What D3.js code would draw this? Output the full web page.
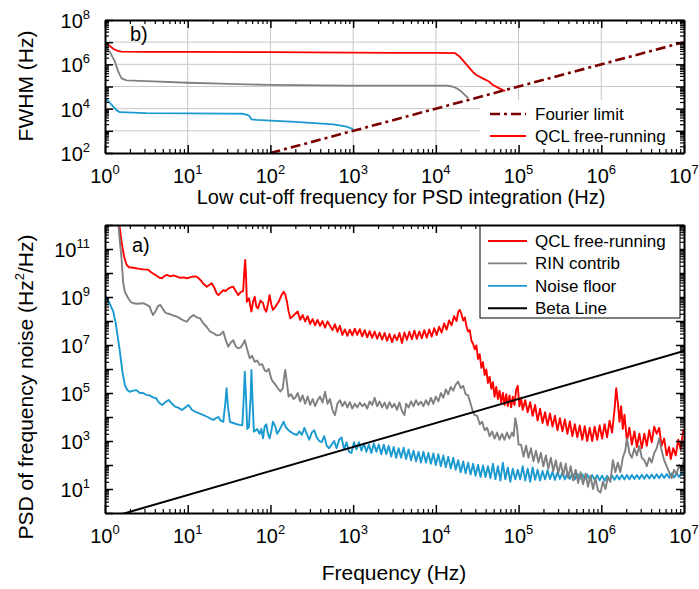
<!DOCTYPE html>
<html>
<head>
<meta charset="utf-8">
<script src="https://cdn.jsdelivr.net/npm/d3@7"></script>
<style>
  body { margin: 0; background: #fff; }
  text { font-family: "Liberation Sans", Arial, Helvetica, sans-serif; fill: #000; }
</style>
</head>
<body>
<svg id="chart" width="699" height="589"></svg>
<script>
// ---------------------------------------------------------------------------
// Data. Each point is [log10 frequency (Hz), log10 value].
// ---------------------------------------------------------------------------

// Panel b): FWHM vs low cut-off frequency for PSD integration
const fwhmQcl = [[0,7.0],[0.05,6.85],[0.10,6.70],[0.15,6.61],[0.20,6.57],[0.5,6.56],[1,6.56],[2,6.55],[3,6.53],[3.5,6.52],[4.0,6.52],[4.23,6.51],
  [4.29,6.34],[4.35,6.08],[4.41,5.82],[4.45,5.65],[4.49,5.52],[4.55,5.40],[4.61,5.29],[4.65,5.20],[4.69,5.07],[4.75,4.95],[4.81,4.84],[4.84,4.80]];
const fwhmRin = [[0,6.79],[0.06,6.55],[0.12,6.12],[0.16,5.67],[0.20,5.37],[0.26,5.28],[0.5,5.24],[1,5.17],[1.5,5.12],[2,5.07],[3,5.04],[4.13,5.04],
  [4.2,5.0],[4.25,4.92],[4.30,4.80],[4.35,4.62],[4.39,4.47]];
const fwhmFloor = [[0,4.47],[0.05,4.30],[0.10,4.09],[0.15,3.90],[0.18,3.84],[0.5,3.80],[1,3.79],[1.5,3.78],[1.67,3.77],[1.73,3.71],[1.75,3.65],
  [1.77,3.52],[1.83,3.49],[2.3,3.40],[2.76,3.29],[2.92,3.19],[3.0,3.08]];
const fourierLimit = [[2,2],[7,7]];

// Panel a): PSD of frequency noise
const psdQcl = [[0.17,12.1],[0.20,11.3],[0.23,10.7],[0.26,10.35],[0.29,10.24],[0.34,10.22],[0.40,10.18],[0.46,10.15],[0.52,10.14],[0.55,10.05],
  [0.58,9.98],[0.62,9.90],[0.66,9.80],[0.69,9.78],[0.72,9.88],[0.75,9.92],[0.79,9.86],[0.83,9.90],[0.87,9.85],[0.91,9.80],[0.95,9.82],[0.99,9.78],
  [1.03,9.82],[1.07,9.86],[1.11,9.85],[1.15,9.72],[1.19,9.55],[1.23,9.43],[1.26,9.50],[1.29,9.57],[1.32,9.40],[1.35,9.15],[1.37,9.08],[1.40,9.18],
  [1.43,9.28],[1.46,9.25],[1.49,9.35],[1.52,9.40],[1.55,9.43],[1.58,9.25],[1.61,9.08],[1.64,9.20],[1.67,9.25],[1.685,10.1],[1.695,10.54],[1.705,9.9],
  [1.715,8.80],[1.74,8.95],[1.77,8.39],[1.79,8.80],[1.81,9.01],[1.83,8.60],[1.85,8.53],[1.88,8.85],[1.91,8.75],[1.93,8.50],[1.95,8.39],[1.97,8.70],
  [1.99,9.08],[2.01,8.70],[2.03,8.46],[2.06,8.60],[2.10,8.80],[2.13,9.05],[2.16,9.22],[2.18,9.10],[2.20,8.80],[2.22,8.40],[2.24,8.11],[2.27,8.20],
  [2.30,8.30],[2.33,8.40],[2.36,8.05],[2.39,8.25],[2.42,7.98],[2.45,8.20],[2.48,7.88],[2.51,8.08],[2.54,7.82],[2.57,8.05],[2.60,7.80],[2.63,8.00],
  [2.66,7.72],[2.69,7.98],[2.72,7.80],[2.75,7.62],[2.78,7.86],[2.81,7.55],[2.84,7.80],[2.87,7.42],[2.90,7.65],[2.93,7.38],[2.96,7.64],[2.99,7.40],
  [3.02,7.68],[3.05,7.42],[3.08,7.66],[3.11,7.36],[3.14,7.62],[3.17,7.32],[3.20,7.58],[3.23,7.30],[3.26,7.56],[3.29,7.26],[3.32,7.52],[3.35,7.22],
  [3.38,7.50],[3.41,7.18],[3.44,7.46],[3.47,7.12],[3.50,7.42],[3.53,7.20],[3.56,7.50],[3.59,7.08],[3.62,7.52],[3.65,7.22],[3.68,7.55],[3.71,7.24],
  [3.74,7.60],[3.77,7.26],[3.80,7.56],[3.83,7.28],[3.86,7.62],[3.89,7.30],[3.92,7.65],[3.95,7.35],[3.98,7.70],[4.01,7.42],[4.04,7.76],[4.07,7.52],
  [4.10,7.90],[4.13,7.64],[4.16,8.02],[4.19,7.82],[4.22,8.20],[4.25,8.00],[4.27,8.38],[4.29,8.46],[4.31,8.28],[4.33,8.02],[4.35,8.15],[4.37,7.78],
  [4.39,7.56],[4.41,7.62],[4.43,7.18],[4.45,7.05],[4.47,6.82],[4.49,6.98],[4.51,6.42],[4.53,6.62],[4.55,6.05],[4.57,6.28],[4.59,5.75],[4.61,5.98],
  [4.63,5.42],[4.65,5.68],[4.67,5.18],[4.69,5.45],[4.71,4.85],[4.73,5.25],[4.75,4.75],[4.77,5.10],[4.79,4.60],[4.81,5.00],[4.83,4.50],[4.85,4.95],
  [4.87,4.45],[4.89,4.90],[4.91,4.40],[4.93,4.85],[4.95,4.50],[4.97,5.12],[4.99,5.30],[5.01,4.45],[5.03,4.80],[5.05,4.30],[5.08,4.70],[5.11,4.20],
  [5.14,4.62],[5.17,4.05],[5.20,4.50],[5.23,3.85],[5.26,4.35],[5.29,3.75],[5.32,4.20],[5.35,3.65],[5.38,4.15],[5.41,3.60],[5.44,4.05],[5.47,3.45],
  [5.50,3.95],[5.53,3.40],[5.56,3.90],[5.59,3.30],[5.62,3.82],[5.65,3.20],[5.68,3.70],[5.71,3.15],[5.74,3.65],[5.77,3.05],[5.80,3.62],[5.83,3.00],
  [5.86,3.55],[5.89,3.00],[5.92,3.60],[5.95,3.05],[5.98,3.65],[6.01,3.10],[6.04,3.70],[6.07,3.15],[6.10,3.85],[6.13,3.35],[6.16,4.30],[6.18,5.20],
  [6.20,4.60],[6.22,3.80],[6.24,4.45],[6.26,3.50],[6.28,4.10],[6.31,3.00],[6.34,3.55],[6.37,2.85],[6.40,3.40],[6.43,2.75],[6.46,3.30],[6.49,2.70],
  [6.52,3.30],[6.55,2.80],[6.58,3.45],[6.61,2.95],[6.64,3.60],[6.67,3.30],[6.70,3.55],[6.73,2.80],[6.76,3.10],[6.79,2.40],[6.82,2.75],[6.84,2.25],
  [6.87,2.70],[6.90,2.40],[6.93,3.05],[6.96,2.65],[6.99,3.45]];

const psdRin = [[0.16,12.1],[0.18,11.3],[0.20,10.6],[0.22,9.6],[0.24,9.22],[0.28,8.95],[0.31,8.80],[0.34,8.74],[0.40,8.72],[0.46,8.74],[0.50,8.68],
  [0.54,8.60],[0.56,8.40],[0.58,8.25],[0.61,8.40],[0.64,8.62],[0.67,8.67],[0.70,8.50],[0.73,8.35],[0.75,8.32],[0.79,8.28],[0.83,8.22],[0.87,8.18],
  [0.91,8.10],[0.95,8.02],[0.99,7.97],[1.03,8.15],[1.07,8.25],[1.11,8.15],[1.15,8.11],[1.19,7.90],[1.23,7.75],[1.27,7.56],[1.31,7.50],[1.35,7.40],
  [1.39,7.42],[1.43,7.56],[1.46,7.20],[1.49,6.93],[1.52,7.10],[1.55,7.20],[1.58,6.95],[1.61,6.86],[1.64,6.90],[1.67,7.05],[1.69,7.20],[1.72,6.80],
  [1.75,6.45],[1.78,6.55],[1.81,6.30],[1.84,6.35],[1.87,6.17],[1.90,6.20],[1.93,5.95],[1.95,5.89],[1.98,6.00],[2.01,5.60],[2.03,5.47],[2.06,5.35],
  [2.09,5.20],[2.12,5.06],[2.15,5.20],[2.17,5.80],[2.18,5.96],[2.20,5.40],[2.22,4.85],[2.25,4.95],[2.28,4.75],[2.30,4.80],[2.33,5.00],[2.36,4.65],
  [2.39,4.90],[2.42,4.55],[2.45,4.85],[2.48,4.50],[2.51,4.75],[2.54,4.45],[2.57,4.70],[2.60,4.85],[2.63,4.60],[2.66,5.05],[2.69,4.55],[2.72,4.75],
  [2.75,4.30],[2.78,4.08],[2.81,4.55],[2.84,4.70],[2.87,4.45],[2.90,4.64],[2.93,4.40],[2.96,4.62],[2.99,4.35],[3.02,4.55],[3.05,4.40],[3.08,4.60],
  [3.11,4.45],[3.14,4.55],[3.17,4.35],[3.20,4.65],[3.23,4.50],[3.26,4.80],[3.29,4.45],[3.32,4.65],[3.35,4.40],[3.38,4.60],[3.41,4.35],[3.44,4.62],
  [3.47,4.40],[3.50,4.55],[3.53,4.30],[3.56,4.60],[3.59,4.25],[3.62,4.08],[3.64,4.55],[3.67,4.40],[3.70,4.65],[3.73,4.45],[3.76,4.70],[3.79,4.50],
  [3.82,4.64],[3.85,4.45],[3.88,4.70],[3.91,4.50],[3.94,4.80],[3.97,4.55],[4.00,4.85],[4.03,4.65],[4.06,5.00],[4.09,4.80],[4.12,5.15],[4.15,4.95],
  [4.18,5.25],[4.21,5.10],[4.24,5.35],[4.27,5.47],[4.30,5.20],[4.33,5.30],[4.36,4.95],[4.39,4.90],[4.42,4.55],[4.45,4.20],[4.47,4.08],[4.50,4.05],
  [4.53,3.70],[4.56,3.80],[4.59,3.45],[4.62,3.55],[4.65,3.20],[4.68,3.40],[4.71,3.10],[4.74,3.35],[4.77,3.05],[4.80,3.30],[4.83,3.05],[4.86,3.35],
  [4.89,3.10],[4.92,3.35],[4.94,3.20],[4.96,3.95],[4.98,3.60],[5.00,2.85],[5.03,2.85],[5.06,2.35],[5.09,2.80],[5.12,2.30],[5.15,2.70],[5.18,2.15],
  [5.21,2.60],[5.24,2.10],[5.27,2.50],[5.30,1.95],[5.33,2.40],[5.36,1.85],[5.39,2.30],[5.42,1.75],[5.45,2.20],[5.48,1.65],[5.51,2.10],[5.54,1.55],
  [5.57,2.05],[5.60,1.45],[5.63,1.95],[5.66,1.35],[5.69,1.80],[5.72,1.25],[5.75,1.70],[5.78,1.20],[5.81,1.65],[5.84,1.10],[5.87,1.55],[5.90,1.00],
  [5.93,1.45],[5.96,0.95],[5.99,0.85],[6.02,1.30],[6.05,1.00],[6.08,1.50],[6.11,1.30],[6.14,2.20],[6.17,1.70],[6.20,2.10],[6.23,1.70],[6.26,2.30],
  [6.29,2.60],[6.31,3.11],[6.34,2.50],[6.37,2.30],[6.40,2.70],[6.43,2.40],[6.46,2.80],[6.49,2.30],[6.52,2.20],[6.55,1.95],[6.58,2.30],[6.61,2.10],
  [6.64,2.50],[6.67,2.70],[6.70,3.11],[6.73,2.60],[6.76,2.20],[6.79,1.95],[6.82,1.70],[6.85,1.45],[6.88,1.80],[6.91,1.60],[6.94,2.00],[6.97,1.75],
  [7.00,2.28]];

const psdFloor = [[0.00,9.08],[0.04,8.85],[0.08,8.55],[0.10,8.39],[0.13,7.90],[0.16,7.20],[0.18,6.72],[0.21,5.90],[0.24,5.33],[0.27,5.12],[0.30,5.05],
  [0.34,5.10],[0.38,5.12],[0.42,5.00],[0.46,5.00],[0.50,4.92],[0.54,4.90],[0.58,4.82],[0.62,4.78],[0.65,4.60],[0.69,4.50],[0.73,4.62],[0.77,4.71],
  [0.81,4.55],[0.85,4.43],[0.89,4.38],[0.93,4.29],[0.97,4.40],[1.01,4.50],[1.05,4.30],[1.09,4.22],[1.14,4.15],[1.19,4.08],[1.24,4.00],[1.28,3.92],
  [1.31,3.88],[1.34,3.95],[1.37,4.00],[1.40,3.85],[1.43,3.80],[1.455,4.6],[1.47,5.20],[1.485,4.5],[1.51,3.80],[1.55,3.75],[1.59,3.70],[1.63,3.67],
  [1.66,3.65],[1.68,5.00],[1.69,5.89],[1.705,4.80],[1.72,3.50],[1.74,3.60],[1.76,4.80],[1.77,5.96],[1.785,4.6],[1.80,3.39],[1.84,3.50],[1.87,3.30],
  [1.89,3.50],[1.91,3.11],[1.93,3.60],[1.95,3.70],[1.97,3.30],[1.99,3.11],[2.01,3.40],[2.03,3.80],[2.06,3.60],[2.08,3.30],[2.10,3.40],[2.13,3.60],
  [2.16,3.80],[2.19,3.55],[2.22,3.45],[2.24,3.39],[2.28,3.30],[2.32,3.25],[2.35,3.40],[2.38,3.25],[2.41,3.55],[2.44,3.30],[2.47,3.05],[2.50,3.35],
  [2.53,3.45],[2.56,3.15],[2.59,3.00],[2.62,2.95],[2.65,3.20],[2.68,2.80],[2.71,2.70],[2.74,2.85],[2.77,3.00],[2.80,2.70],[2.83,3.05],[2.86,3.15],
  [2.89,2.65],[2.92,2.95],[2.95,2.55],[2.98,2.50],[3.01,2.95],[3.04,2.65],[3.07,2.95],[3.10,2.60],[3.13,2.90],[3.16,2.55],[3.19,2.85],[3.22,2.50],
  [3.25,2.90],[3.28,2.55],[3.31,2.85],[3.34,2.45],[3.37,2.85],[3.40,2.45],[3.43,2.80],[3.46,2.35],[3.49,2.75],[3.52,2.30],[3.55,2.70],[3.58,2.30],
  [3.61,2.72],[3.64,2.25],[3.67,2.65],[3.70,2.20],[3.73,2.60],[3.76,2.15],[3.79,2.55],[3.82,2.10],[3.85,2.55],[3.88,2.10],[3.91,2.50],[3.94,2.05],
  [3.97,2.48],[4.00,2.00],[4.03,2.45],[4.06,1.95],[4.09,2.40],[4.12,1.90],[4.15,2.35],[4.18,1.85],[4.21,2.30],[4.24,1.80],[4.27,2.20],[4.30,1.70],
  [4.33,2.15],[4.36,1.65],[4.39,2.10],[4.42,1.60],[4.45,2.05],[4.48,1.55],[4.51,2.00],[4.54,1.50],[4.57,1.98],[4.60,1.50],[4.63,1.95],[4.66,1.45],
  [4.69,2.05],[4.72,1.40],[4.75,1.95],[4.78,1.35],[4.81,2.10],[4.84,1.40],[4.87,1.90],[4.90,1.30],[4.93,1.85],[4.96,1.40],[4.99,1.80],[5.02,1.40],
  [5.05,1.95],[5.08,1.35],[5.11,1.85],[5.14,1.30],[5.17,1.90],[5.20,1.38],[5.23,1.80],[5.26,1.35],[5.29,1.75],[5.32,1.40],[5.35,1.78],[5.38,1.42],
  [5.41,1.72],[5.44,1.38],[5.47,1.70],[5.50,1.42],[5.53,1.68],[5.56,1.40],[5.59,1.66],[5.62,1.42],[5.65,1.65],[5.68,1.40],[5.71,1.64],[5.74,1.42],
  [5.77,1.62],[5.80,1.40],[5.83,1.60],[5.86,1.40],[5.89,1.58],[5.92,1.38],[5.95,1.58],[5.98,1.36],[6.01,1.56],[6.04,1.34],[6.07,1.55],[6.10,1.36],
  [6.13,1.56],[6.16,1.38],[6.19,1.57],[6.22,1.40],[6.25,1.58],[6.28,1.40],[6.31,1.58],[6.34,1.41],[6.37,1.58],[6.40,1.42],[6.43,1.58],[6.46,1.42],
  [6.49,1.59],[6.52,1.43],[6.55,1.60],[6.58,1.44],[6.61,1.60],[6.64,1.44],[6.67,1.61],[6.70,1.45],[6.73,1.62],[6.76,1.46],[6.79,1.63],[6.82,1.47],
  [6.85,1.65],[6.88,1.48],[6.91,1.66],[6.94,1.50],[6.97,1.68],[7.00,1.60]];

// beta-separation line: S = 8 ln2 f / pi^2, endpoints at 1 Hz and 10 MHz
const betaLine = [[0,-0.25],[7,6.75]];

const legendB = ["Fourier limit", "QCL free-running"];
const legendA = ["QCL free-running", "RIN contrib", "Noise floor", "Beta Line"];
const colors = { qcl: "#ff0000", rin: "#808080", floor: "#1a9ad0", beta: "#000000", fourier: "#7a0000" };

// ---------------------------------------------------------------------------
const svg = d3.select("#chart");
svg.append("rect").attr("width", 699).attr("height", 589).attr("fill", "#fff");

const toLin = pts => pts.map(p => [Math.pow(10, p[0]), Math.pow(10, p[1])]);
const decades = (lo, hi) => d3.range(lo, hi + 1).map(e => Math.pow(10, e));
const minors = (lo, hi) => {
  const out = [];
  for (let e = lo; e < hi; e++) for (let k = 2; k <= 9; k++) out.push(k * Math.pow(10, e));
  return out;
};

const xB = d3.scaleLog().domain([1, 1e7]).range([105, 684]);
const yB = d3.scaleLog().domain([1e2, 1e8]).range([153, 20]);
const xA = d3.scaleLog().domain([1, 1e7]).range([105, 684]);
const yA = d3.scaleLog().domain([1, 1e12]).range([513, 225]);

function clip(id, x, y) {
  svg.append("clipPath").attr("id", id).append("rect")
    .attr("x", x.range()[0]).attr("y", y.range()[1])
    .attr("width", x.range()[1] - x.range()[0]).attr("height", y.range()[0] - y.range()[1]);
}
clip("clipB", xB, yB);
clip("clipA", xA, yA);

function drawLine(g, x, y, pts, color, width, dash) {
  const line = d3.line().x(d => x(d[0])).y(d => y(d[1]));
  const p = g.append("path").datum(toLin(pts)).attr("d", line)
    .attr("fill", "none").attr("stroke", color).attr("stroke-width", width)
    .attr("stroke-linejoin", "round");
  if (dash) p.attr("stroke-dasharray", dash);
  return p;
}

function frame(x, y, xMaj, xMin, yMaj, yMin) {
  const [x0, x1] = x.range();
  const [y0, y1] = y.range();
  const g = svg.append("g");
  const place = [
    [d3.axisBottom(x), xMaj, xMin, `translate(0,${y0})`],
    [d3.axisTop(x), xMaj, xMin, `translate(0,${y1})`],
    [d3.axisLeft(y), yMaj, yMin, `translate(${x0},0)`],
    [d3.axisRight(y), yMaj, yMin, `translate(${x1},0)`]
  ];
  place.forEach(([ax, maj, min, tr]) => {
    g.append("g").attr("transform", tr)
      .call(ax.tickValues(min).tickSize(-4).tickSizeOuter(0).tickFormat(""))
      .call(s => s.select(".domain").remove())
      .call(s => s.selectAll("line").attr("stroke", "#000").attr("stroke-width", 1.2));
    g.append("g").attr("transform", tr)
      .call(ax.tickValues(maj).tickSize(-8).tickSizeOuter(0).tickFormat(""))
      .call(s => s.select(".domain").attr("stroke", "#000").attr("stroke-width", 2))
      .call(s => s.selectAll("line").attr("stroke", "#000").attr("stroke-width", 1.5));
  });
  return g;
}

function powLabel(g, x, y, exp, anchor, size, supSize) {
  const t = g.append("text").attr("x", x).attr("y", y).attr("text-anchor", anchor)
    .attr("font-size", size);
  t.append("tspan").text("10");
  t.append("tspan").attr("dy", -9).attr("font-size", supSize).text(exp);
}

// ---------------------------- panel b) --------------------------------------
const gB = svg.append("g");
// grid
gB.selectAll(".gh").data(decades(3, 7)).enter().append("line")
  .attr("x1", 105).attr("x2", 684).attr("y1", d => yB(d)).attr("y2", d => yB(d))
  .attr("stroke", "#c8c8c8").attr("stroke-width", 1);
gB.selectAll(".gv").data(decades(1, 6)).enter().append("line")
  .attr("y1", 20).attr("y2", 153).attr("x1", d => xB(d)).attr("x2", d => xB(d))
  .attr("stroke", "#c8c8c8").attr("stroke-width", 1);
// legend background
gB.append("rect").attr("x", 480).attr("y", 100).attr("width", 202).attr("height", 51).attr("fill", "#fff");

const curvesB = gB.append("g").attr("clip-path", "url(#clipB)");
drawLine(curvesB, xB, yB, fwhmFloor, colors.floor, 1.8);
drawLine(curvesB, xB, yB, fwhmRin, colors.rin, 1.8);
drawLine(curvesB, xB, yB, fwhmQcl, colors.qcl, 1.8);
drawLine(curvesB, xB, yB, fourierLimit, colors.fourier, 2.6, "10,4,3,4");

frame(xB, yB, decades(0, 7), minors(0, 7), decades(2, 8), minors(2, 8));
decades(0, 7).forEach((v, i) => powLabel(svg, xB(v), 183, String(i), "middle", 20, 13));
[2, 4, 6, 8].forEach(e => powLabel(svg, 90, yB(Math.pow(10, e)) + 8, String(e), "end", 20, 13));

svg.append("text").attr("x", 130).attr("y", 41).attr("font-size", 20).text("b)");

// legend b)
[[legendB[0], colors.fourier, "10,4,3,4", 114], [legendB[1], colors.qcl, null, 136]].forEach(([lab, c, dash, yy]) => {
  const l = svg.append("line").attr("x1", 490).attr("x2", 526).attr("y1", yy).attr("y2", yy)
    .attr("stroke", c).attr("stroke-width", dash ? 2.6 : 1.8);
  if (dash) l.attr("stroke-dasharray", dash);
  svg.append("text").attr("x", 535).attr("y", yy + 6).attr("font-size", 17).text(lab);
});

svg.append("text").attr("transform", "translate(33,86) rotate(-90)").attr("text-anchor", "middle")
  .attr("font-size", 21).text("FWHM (Hz)");
svg.append("text").attr("x", 401).attr("y", 204).attr("text-anchor", "middle")
  .attr("font-size", 20).text("Low cut-off frequency for PSD integration (Hz)");

// ---------------------------- panel a) --------------------------------------
const curvesA = svg.append("g").attr("clip-path", "url(#clipA)");
drawLine(curvesA, xA, yA, psdFloor, colors.floor, 1.9);
drawLine(curvesA, xA, yA, psdQcl, colors.qcl, 1.9);
drawLine(curvesA, xA, yA, psdRin, colors.rin, 1.9);
drawLine(curvesA, xA, yA, betaLine, colors.beta, 2);

frame(xA, yA, decades(0, 7), minors(0, 7), decades(0, 12), minors(0, 12));
decades(0, 7).forEach((v, i) => powLabel(svg, xA(v), 543, String(i), "middle", 20, 13));
[1, 3, 5, 7, 9, 11].forEach(e => powLabel(svg, 90, yA(Math.pow(10, e)) + 8, String(e), "end", 20, 13));

svg.append("text").attr("x", 132).attr("y", 252).attr("font-size", 20).text("a)");

// legend a)
svg.append("rect").attr("x", 480).attr("y", 226).attr("width", 200).attr("height", 92)
  .attr("fill", "#fff").attr("stroke", "#000").attr("stroke-width", 1);
[colors.qcl, colors.rin, colors.floor, colors.beta].forEach((c, i) => {
  const yy = 241 + i * 22.4;
  svg.append("line").attr("x1", 488).attr("x2", 527).attr("y1", yy).attr("y2", yy)
    .attr("stroke", c).attr("stroke-width", i === 3 ? 2 : 1.8);
  svg.append("text").attr("x", 535).attr("y", yy + 6).attr("font-size", 17).text(legendA[i]);
});

const yt = svg.append("text").attr("transform", "translate(33,387) rotate(-90)").attr("text-anchor", "middle")
  .attr("font-size", 21);
yt.append("tspan").text("PSD of frequency noise (Hz");
yt.append("tspan").attr("dy", -9).attr("font-size", 13).text("2");
yt.append("tspan").attr("dy", 9).text("/Hz)");

svg.append("text").attr("x", 394).attr("y", 580).attr("text-anchor", "middle")
  .attr("font-size", 21).text("Frequency (Hz)");
</script>
</body>
</html>
